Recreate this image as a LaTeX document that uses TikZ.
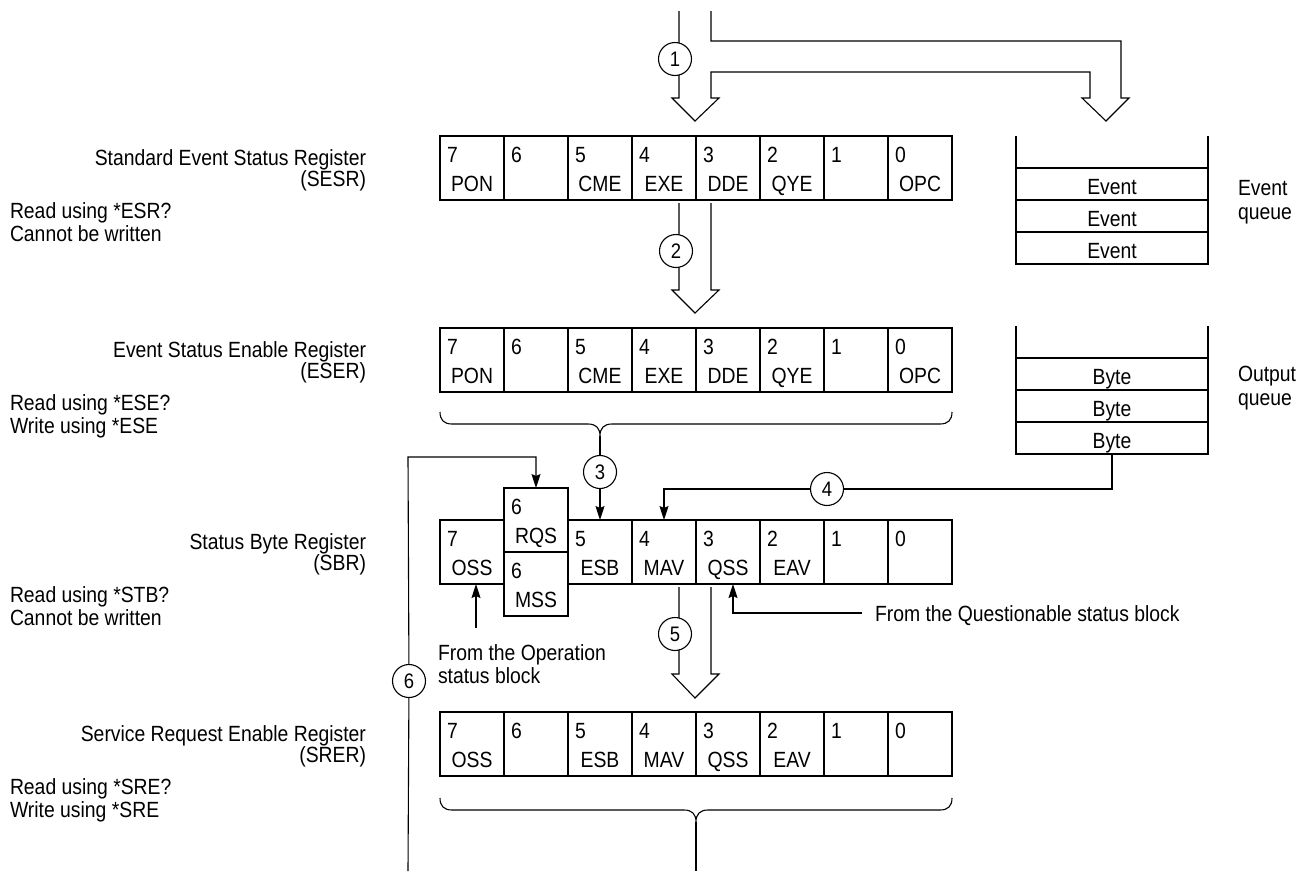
\documentclass[tikz,border=0pt]{standalone}
\usepackage{fontspec}
\setmainfont{Liberation Sans}[FakeStretch=0.88]
\usetikzlibrary{arrows.meta,calc}
\newcommand\regcell[5]{% name, x-left, y-top, number, label
  \node[cellbox] (#1) at (#2+32,#3+32) {};
  \node[numtxt] at ($(#1.north west)+(7,26)$) {#4};
  \node[nametxt] at ($(#1.north)+(0,55)$) {#5};
}
\begin{document}
\begin{tikzpicture}[x=1pt,y=-1pt,
  every node/.style={inner sep=0pt, outer sep=0pt},
  txt/.style={font=\fontsize{22}{26}\selectfont},
  cellbox/.style={draw, line width=1.2pt, minimum width=64pt, minimum height=64pt},
  numtxt/.style={txt, anchor=base west},
  nametxt/.style={txt, anchor=base},
  qrow/.style={minimum width=192pt, minimum height=32pt},
  circ/.style={circle, draw, line width=1.1pt, fill=white, minimum size=33pt, font=\fontsize{21}{21}\selectfont},
  wire/.style={line width=1.1pt},
  arr/.style={wire, -{Stealth[length=14pt,width=9pt,inset=2pt]}},
  bigarrow/.style={line width=1.1pt, line join=miter},
  rlabel/.style={txt, anchor=base east},
  llabel/.style={txt, anchor=base west}]

\fill[white] (0,0) rectangle (1302,871);
\useasboundingbox (0,0) rectangle (1302,871);

% ---------- registers ----------
\foreach \n/\lab [count=\i from 0] in {7/PON,6/{},5/CME,4/EXE,3/DDE,2/QYE,1/{},0/OPC}
  {\regcell{sesr\n}{440+64*\i}{136}{\n}{\lab}}
\foreach \n/\lab [count=\i from 0] in {7/PON,6/{},5/CME,4/EXE,3/DDE,2/QYE,1/{},0/OPC}
  {\regcell{eser\n}{440+64*\i}{328}{\n}{\lab}}
\regcell{sbr7}{440}{520}{7}{OSS}
\regcell{sbrrqs}{504}{488}{6}{RQS}
\regcell{sbrmss}{504}{552}{6}{MSS}
\foreach \n/\lab [count=\i from 2] in {5/ESB,4/MAV,3/QSS,2/EAV,1/{},0/{}}
  {\regcell{sbr\n}{440+64*\i}{520}{\n}{\lab}}
\foreach \n/\lab [count=\i from 0] in {7/OSS,6/{},5/ESB,4/MAV,3/QSS,2/EAV,1/{},0/{}}
  {\regcell{srer\n}{440+64*\i}{712}{\n}{\lab}}

% ---------- left labels ----------
\node[rlabel] at (366,165) {Standard Event Status Register};
\node[rlabel] at (366,186) {(SESR)};
\node[llabel] at (10,218) {Read using *ESR?};
\node[llabel] at (10,241) {Cannot be written};

\node[rlabel] at (366,357) {Event Status Enable Register};
\node[rlabel] at (366,378) {(ESER)};
\node[llabel] at (10,410) {Read using *ESE?};
\node[llabel] at (10,433) {Write using *ESE};

\node[rlabel] at (366,549) {Status Byte Register};
\node[rlabel] at (366,570) {(SBR)};
\node[llabel] at (10,602) {Read using *STB?};
\node[llabel] at (10,625) {Cannot be written};

\node[rlabel] at (366,741) {Service Request Enable Register};
\node[rlabel] at (366,762) {(SRER)};
\node[llabel] at (10,794) {Read using *SRE?};
\node[llabel] at (10,817) {Write using *SRE};

% ---------- queues ----------
\foreach \k in {0,1,2,3} {
  \node[qrow] (eq\k) at (1112,152+32*\k) {};
  \node[qrow] (oq\k) at (1112,342+32*\k) {};
}
\foreach \k in {1,2,3} {
  \node[nametxt] at ($(eq\k.north)+(0,26)$) {Event};
  \node[nametxt] at ($(oq\k.north)+(0,26)$) {Byte};
  \draw[line width=1.2pt] (eq\k.north west) -- (eq\k.north east);
  \draw[line width=1.2pt] (oq\k.north west) -- (oq\k.north east);
}
\draw[line width=1.2pt] (eq0.north west) -- (eq3.south west) -- (eq3.south east) -- (eq0.north east);
\draw[line width=1.2pt] (oq0.north west) -- (oq3.south west) -- (oq3.south east) -- (oq0.north east);
\node[llabel] at (1238,195) {Event};
\node[llabel] at (1238,219) {queue};
\node[llabel] at (1238,381) {Output};
\node[llabel] at (1238,405) {queue};

% ---------- hollow arrows ----------
\draw[bigarrow] (679,11) -- (679,98) -- (672,98) -- (695,121) -- (719,98) -- (711,98)
  -- (711,72) -- (1090,72) -- (1090,98) -- (1082,98) -- (1106,121) -- (1129,98)
  -- (1121,98) -- (1121,41) -- (711,41) -- (711,11);
\node[circ] (c1) at (675,59) {1};

\draw[bigarrow] (679,203) -- (679,290) -- (672,290) -- (695,313) -- (719,290) -- (711,290) -- (711,203);
\node[circ] (c2) at (676,251) {2};

\draw[bigarrow] (679,587) -- (679,674) -- (672,674) -- (695,698) -- (719,674) -- (711,674) -- (711,587);
\node[circ] (c5) at (675,634) {5};

% ---------- brace under ESER, path 3 ----------
\draw[wire] (440,412) .. controls (440,420) and (444,424) .. (452,424) -- (588,424)
  .. controls (596,424) and (600,428) .. (600,436)
  .. controls (600,428) and (604,424) .. (612,424) -- (940,424)
  .. controls (948,424) and (952,420) .. (952,412);
\coordinate (br1) at (600,436);
\node[circ] (c3) at (600,472) {3};
\draw[wire] (br1) -- (c3);
\draw[arr] (c3) -- (sbr5.north);

% ---------- path 4 from output queue ----------
\node[circ] (c4) at (827,489) {4};
\coordinate (k4) at (oq3.south |- c4);
\draw[wire] (oq3.south) -- (k4) -- (c4);
\draw[arr] (c4) -| (sbr4.north);

% ---------- path 6 ----------
\coordinate (l6a) at (408,871);
\coordinate (l6b) at (408,457);
\node[circ] (c6) at (409,681) {6};
\draw[wire] (l6a) -- (c6);
\draw[arr] (c6) -- (l6b) -| (sbrrqs.north);

% ---------- operation / questionable inputs ----------
\coordinate (op) at (476,628);
\draw[arr] (op) -- (op |- sbr7.south);
\node[llabel] at (438,660) {From the Operation};
\node[llabel] at (438,683) {status block};

\coordinate (qs) at (862,613);
\coordinate (qk) at (733,613);
\draw[arr] (qs) -- (qk) -- (qk |- sbr3.south);
\node[llabel] at (875,621) {From the Questionable status block};

% ---------- brace under SRER ----------
\draw[wire] (440,798) .. controls (440,806) and (444,810) .. (452,810) -- (684,810)
  .. controls (692,810) and (696,814) .. (696,822)
  .. controls (696,814) and (700,810) .. (708,810) -- (940,810)
  .. controls (948,810) and (952,806) .. (952,798);
\coordinate (br2) at (696,822);
\coordinate (out2) at (696,871);
\draw[wire] (br2) -- (out2);
\end{tikzpicture}
\end{document}
